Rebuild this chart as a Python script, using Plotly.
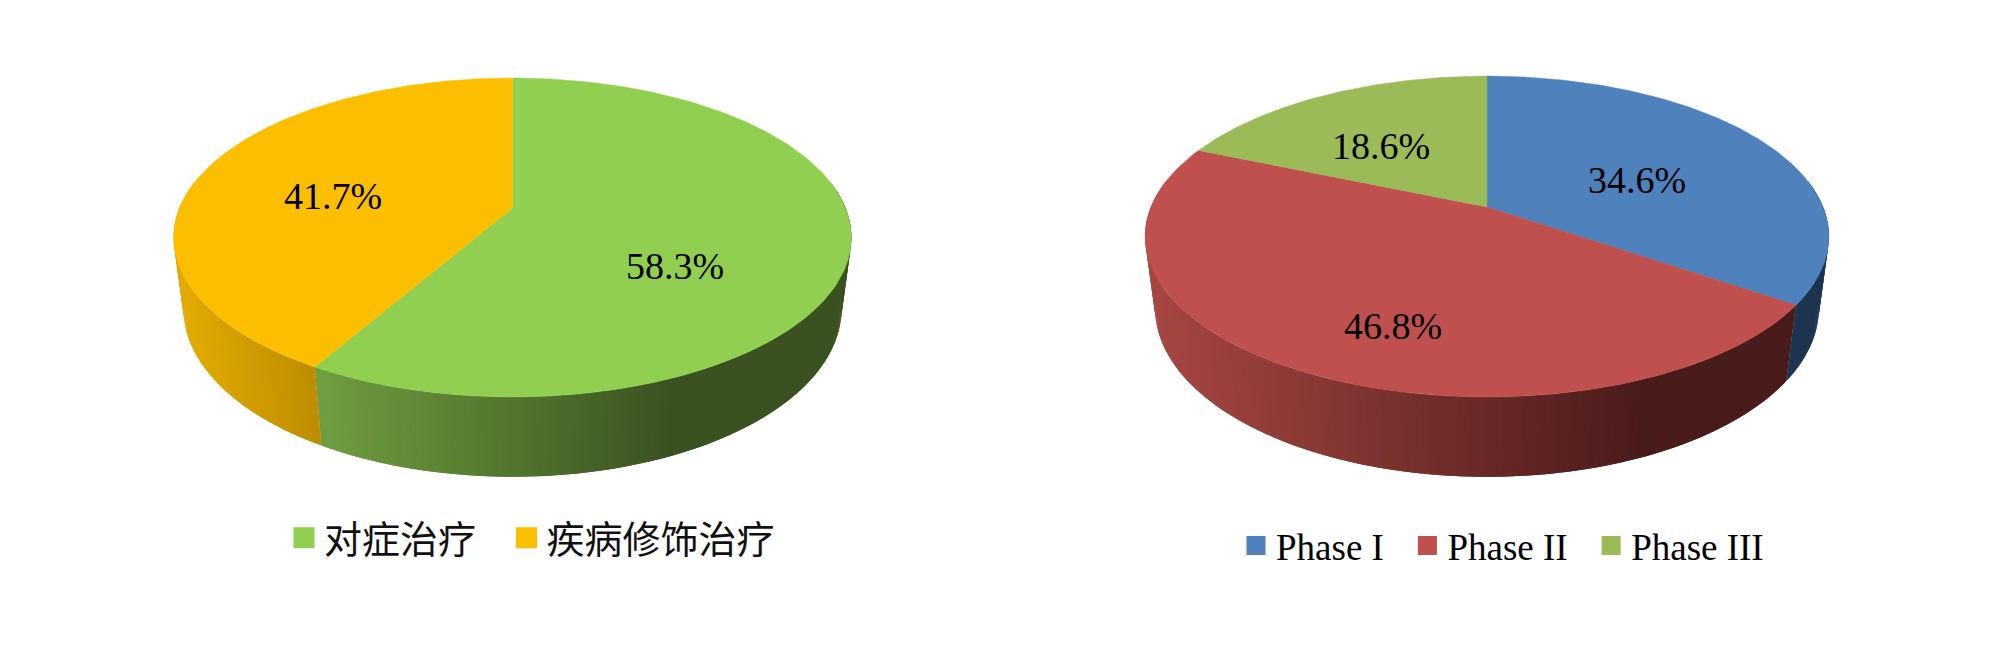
import numpy as np
import plotly.graph_objects as go

W, H = 2000, 667

# ---- data ----
left_names = ["对症治疗", "疾病修饰治疗"]
left_values = [58.3, 41.7]
right_names = ["Phase I", "Phase II", "Phase III"]
right_values = [34.6, 46.8, 18.6]

# ---- styles ----
left_colors = ["#90CF50", "#FCBF00"]
right_colors = ["#4F81BD", "#BF504D", "#9BBB59"]
left_walls = [((112, 157, 64), (58, 82, 32), 320, 676), ((226, 170, 0), (188, 140, 0), 183, 320)]
right_walls = [((30, 53, 80), (30, 53, 80), 1790, 1830),
               ((166, 70, 65), (74, 27, 27), 1155, 1646),
               ((120, 140, 60), (120, 140, 60), 0, 1)]
left_geo = dict(cx=512.5, cy=208, a=333, b=154, k=0.185, c=72.8, e=0.029)
right_geo = dict(cx=1487, cy=207, a=336, b=155, k=0.184, c=73, e=0.029)
left_label_xy = [(675, 269), (333, 199)]
right_label_xy = [(1637, 183), (1393, 329), (1381, 149)]


def project(theta, g, h):
    """theta: degrees clockwise from the top of the disc; h=0 top rim, h=1 lower rim."""
    t = np.radians(theta)
    u, v = np.sin(t), -np.cos(t)
    w = 1 - g["k"] * v + g["e"] * h
    return g["cx"] + g["a"] * u / w, g["cy"] + (g["b"] * v + g["c"] * h) / w


def add_pie(fig, values, colors, walls, geo, label_xy):
    total = sum(values)
    edges = np.concatenate([[0], np.cumsum(values) / total * 360])
    # side wall first: each strip overlaps the next one so no seams show
    for i in range(len(values)):
        a0, a1 = max(edges[i], 80), min(edges[i + 1], 280)
        if a1 <= a0:
            continue
        n = max(2, int((a1 - a0) / 0.75))
        ts = np.linspace(a0, a1, n + 1)
        c0, c1, x0, x1 = walls[i]
        for t0, t1 in zip(ts[:-1], ts[1:]):
            t2 = min(t1 + 0.75, a1)
            xa, ya = project(t0, geo, 0)
            xb, yb = project(t2, geo, 0)
            xc, yc = project(t2, geo, 1)
            xd, yd = project(t0, geo, 1)
            xm = project((t0 + t1) / 2, geo, 0)[0]
            f = np.clip((xm - x0) / (x1 - x0), 0, 1)
            col = "rgb(%d,%d,%d)" % tuple(round(c0[j] + (c1[j] - c0[j]) * f) for j in range(3))
            fig.add_trace(go.Scatter(
                x=[xa, xb, xc, xd, xa], y=[ya, yb, yc, yd, ya], mode="lines",
                fill="toself", fillcolor=col, line=dict(width=0),
                hoverinfo="skip", showlegend=False))
    # top disc
    for i in range(len(values)):
        ts = np.linspace(edges[i], edges[i + 1], 200)
        xs, ys = project(ts, geo, 0)
        fig.add_trace(go.Scatter(
            x=np.r_[geo["cx"], xs, geo["cx"]], y=np.r_[geo["cy"], ys, geo["cy"]],
            mode="lines", fill="toself", fillcolor=colors[i],
            line=dict(color=colors[i], width=0.5), hoverinfo="skip", showlegend=False))
    # percentage labels
    fig.add_trace(go.Scatter(
        x=[p[0] for p in label_xy], y=[p[1] for p in label_xy], mode="text",
        text=["%.1f%%" % v for v in values], textposition="middle center",
        textfont=dict(family="Liberation Serif", size=38, color="#000000"),
        hoverinfo="skip", showlegend=False))


fig = go.Figure()
add_pie(fig, left_values, left_colors, left_walls, left_geo, left_label_xy)
add_pie(fig, right_values, right_colors, right_walls, right_geo, right_label_xy)

left_pads = ["\u00a0\u00a0\u00a0", ""]
for name, col, pad in zip(left_names, left_colors, left_pads):
    fig.add_trace(go.Scatter(x=[None], y=[None], mode="markers", name=name + pad, legend="legend",
                             marker=dict(symbol="square", size=16, color=col,
                                         line=dict(color=col, width=5))))
for name, col in zip(right_names, right_colors):
    fig.add_trace(go.Scatter(x=[None], y=[None], mode="markers", name=name + "\u00a0\u00a0", legend="legend2",
                             marker=dict(symbol="square", size=14, color=col,
                                         line=dict(color=col, width=5))))

fig.update_layout(
    width=W, height=H, margin=dict(l=0, r=0, t=0, b=0),
    paper_bgcolor="white", plot_bgcolor="white", showlegend=True,
    xaxis=dict(range=[0, W], visible=False, fixedrange=True),
    yaxis=dict(range=[H, 0], visible=False, fixedrange=True),
    legend=dict(orientation="h", x=284 / W, y=1 - 506.5 / H, xanchor="left", yanchor="top",
                bgcolor="rgba(0,0,0,0)",
                font=dict(family="Noto Sans CJK SC", size=38, color="#111111")),
    legend2=dict(orientation="h", x=1236 / W, y=1 - 515 / H, xanchor="left", yanchor="top",
                 bgcolor="rgba(0,0,0,0)",
                 font=dict(family="Liberation Serif", size=37, color="#000000")),
)
fig.write_html("out.html", post_script="document.body.style.margin='0';",
               config=dict(displayModeBar=False))
